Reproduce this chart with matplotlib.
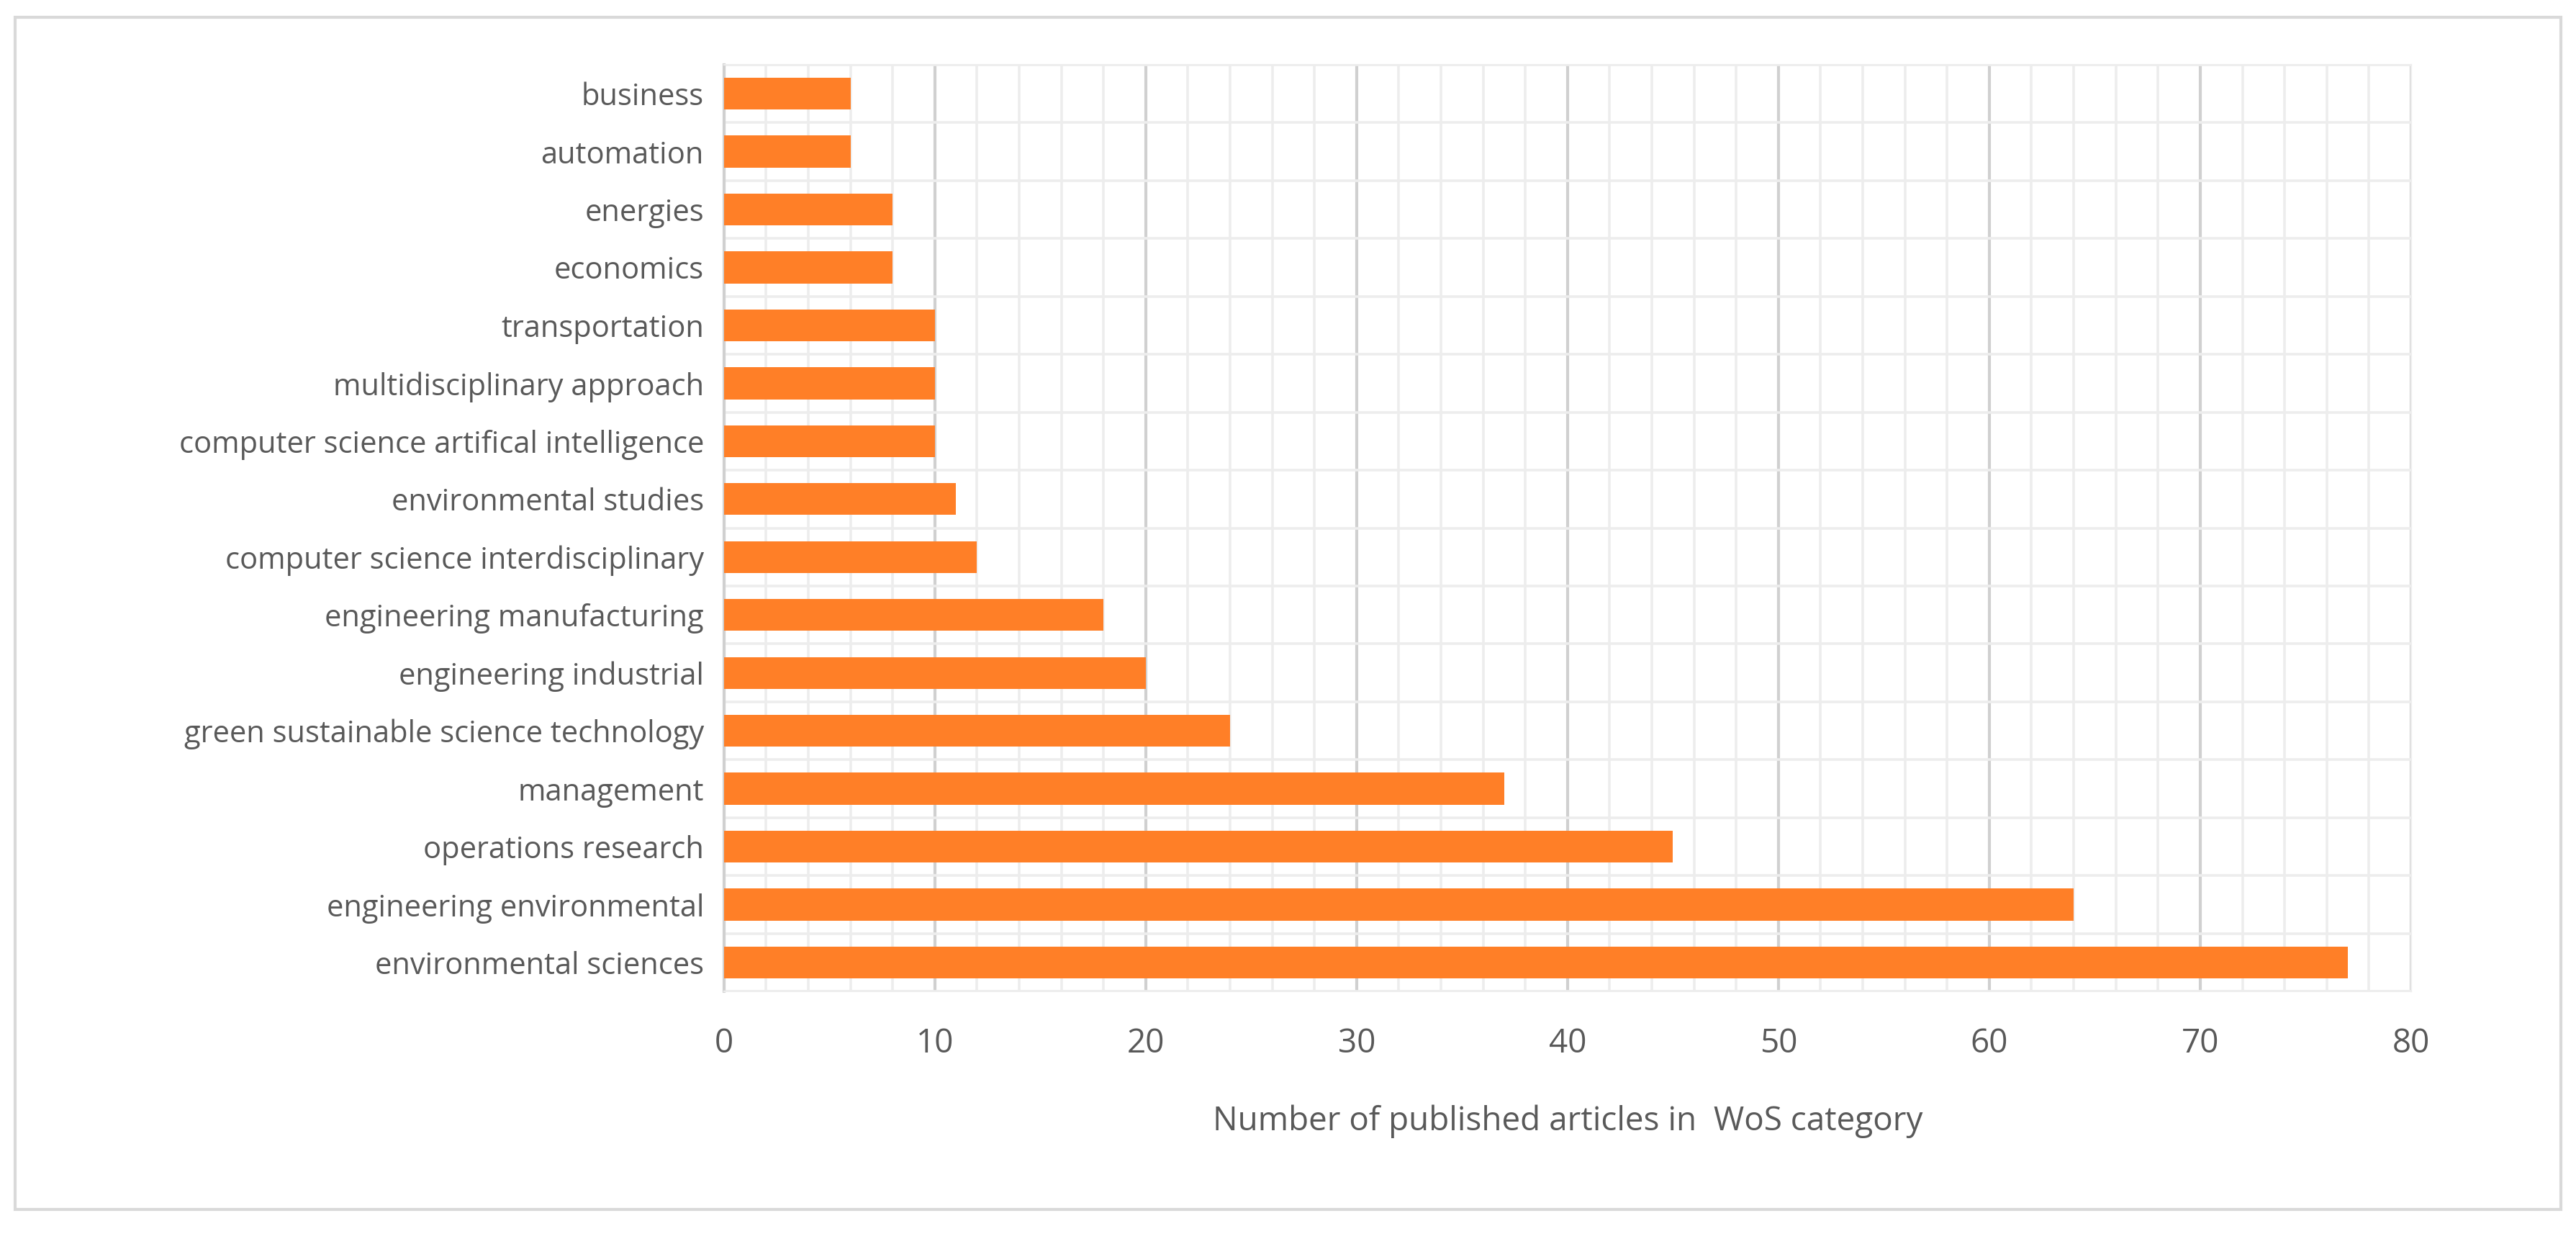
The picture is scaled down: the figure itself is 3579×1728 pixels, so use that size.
import matplotlib
matplotlib.use("Agg")
import matplotlib.pyplot as plt
from matplotlib.patches import Rectangle
from matplotlib.ticker import MultipleLocator

categories = ["environmental sciences", "engineering environmental", "operations research",
              "management", "green sustainable science technology", "engineering industrial",
              "engineering manufacturing", "computer science interdisciplinary",
              "environmental studies", "computer science artifical intelligence",
              "multidisciplinary approach", "transportation", "economics", "energies",
              "automation", "business"]
values = [77, 64, 45, 37, 24, 20, 18, 12, 11, 10, 10, 10, 8, 8, 6, 6]
xlabel = "Number of published articles in  WoS category"

plt.rcParams['font.family'] = ['Open Sans', 'DejaVu Sans']
fig = plt.figure(figsize=(17.895, 8.64), dpi=200)
ax = fig.add_axes([0.281, 0.203, 0.655, 0.745])
ax.barh(range(len(categories)), values, height=0.55, color="#FF7F27", zorder=3)
ax.set_yticks(range(len(categories)))
ax.set_yticklabels(categories)
ax.set_ylim(-0.5, len(categories) - 0.5)
ax.set_xlim(0, 80)
ax.xaxis.set_major_locator(MultipleLocator(10))
ax.xaxis.set_minor_locator(MultipleLocator(2))
ax.yaxis.set_minor_locator(MultipleLocator(0.5))
ax.grid(which="major", axis="x", color="#D0D0D0", lw=1.5, zorder=0)
ax.grid(which="minor", axis="x", color="#EDEDED", lw=1.3, zorder=0)
ax.grid(which="minor", axis="y", color="#EDEDED", lw=1.3, zorder=0)
ax.tick_params(which="both", length=0, labelsize=15, colors="#595959", pad=10)
ax.tick_params(axis="x", labelsize=16.5, pad=18)
for s in ["top", "right", "bottom"]:
    ax.spines[s].set_color("#EDEDED")
ax.spines["left"].set_color("#D0D0D0")
ax.spines["left"].set_linewidth(1.5)
ax.set_xlabel(xlabel, fontsize=16.5, color="#595959", labelpad=22)
fig.patches.append(Rectangle((0.006, 0.028), 0.988, 0.958, transform=fig.transFigure,
                             fill=False, edgecolor="#D9D9D9", lw=1.5))
fig.savefig("out.png", dpi=200)
